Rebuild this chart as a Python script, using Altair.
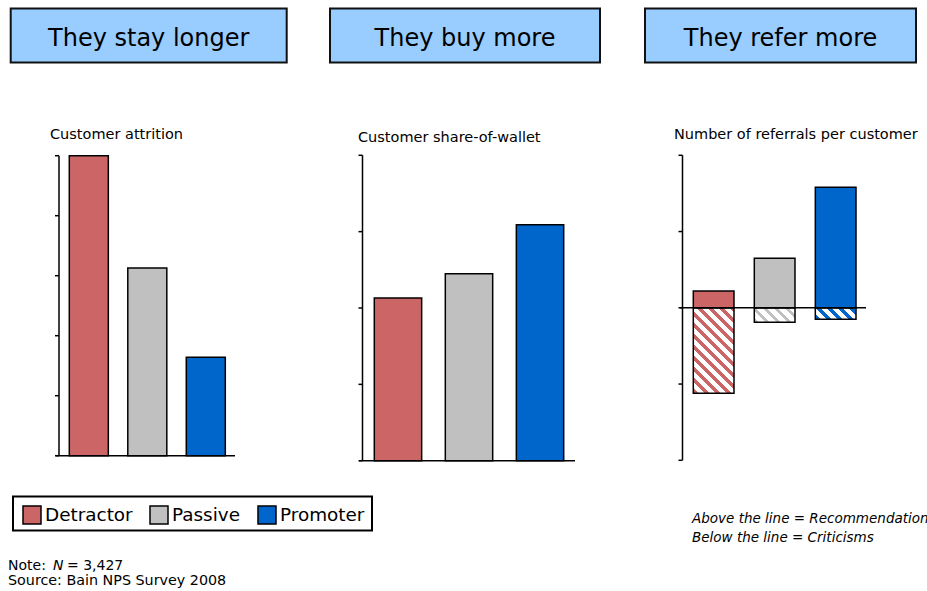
import altair as alt
import pandas as pd

# ---------------- data ----------------
segments = ["Detractor", "Passive", "Promoter"]
seg_colors = ["#CC6666", "#C0C0C0", "#0066CC"]

headers = ["They stay longer", "They buy more", "They refer more"]
subtitles = ["Customer attrition", "Customer share-of-wallet", "Number of referrals per customer"]

attrition = [5.0, 3.13, 1.64]
wallet = [2.13, 2.45, 3.09]
referrals_up = [0.22, 0.65, 1.58]
referrals_down = [-1.12, -0.19, -0.15]

attr_ticks = [0, 1, 2, 3, 4, 5]
wallet_ticks = [0, 1, 2, 3, 4]
ref_ticks = [-2, -1, 0, 1, 2]

note_prefix = "Note:"
note_n = "N"
note_value = "= 3,427"
source_line = "Source: Bain NPS Survey 2008"
annotation_lines = ["Above the line = Recommendations", "Below the line = Criticisms"]

# ---------------- layout / style ----------------
FONT = "DejaVu Sans"
PAD_INNER = 0.333
panels = [
    dict(xr=(69.3, 225.3), yr=(455.7, 155.7), dom=(0, 5), axis_x=59.0, base=(55.7, 235.0),
         box=(10.7, 286.7), sub=(50, 139)),
    dict(xr=(374.3, 563.7), yr=(460.7, 155.3), dom=(0, 4), axis_x=362.5, base=(359.0, 575.0),
         box=(330.0, 600.0), sub=(358, 141.5)),
    dict(xr=(693.3, 856.0), yr=(460.3, 155.3), dom=(-2, 2), axis_x=682.5, base=(680.0, 866.0),
         box=(645.0, 916.0), sub=(674, 138.5)),
]
BOX_Y = (8.5, 62.5)


def xs(p):
    return alt.X("segment:N", scale=alt.Scale(domain=segments, range=list(p["xr"]),
                                              paddingInner=PAD_INNER, paddingOuter=0), axis=None)


def ys(p, field="value"):
    return alt.Y(f"{field}:Q", scale=alt.Scale(domain=list(p["dom"]), range=list(p["yr"]),
                                               nice=False, zero=False), axis=None)


color_enc = alt.Color(
    "segment:N",
    scale=alt.Scale(domain=segments, range=seg_colors),
    legend=alt.Legend(title=None, orient="none", legendX=13, legendY=496, direction="horizontal",
                      symbolType="square", symbolSize=324, symbolStrokeColor="black",
                      symbolStrokeWidth=1.5, symbolOpacity=1, labelFont=FONT, labelFontSize=18.4,
                      labelColor="black", labelOffset=3, columnPadding=14, padding=9),
)


def hatch(color, w, h, period=11.0, frac=0.45):
    s = (w + h) / (w * w + h * h)
    dt = period / (w + h)
    stops = []
    t = 0.0
    while t < 1:
        b = min(t + frac * dt, 1.0)
        c = min(t + dt, 1.0)
        stops += [{"offset": round(t, 4), "color": color}, {"offset": round(b, 4), "color": color},
                  {"offset": round(b, 4), "color": "white"}, {"offset": round(c, 4), "color": "white"}]
        t += dt
    return {"gradient": "linear", "x1": 0, "y1": 1, "x2": round(s * w, 4), "y2": round(1 - s * h, 4),
            "stops": stops}


def axis_layers(p, ticks):
    one = pd.DataFrame({"lo": [p["dom"][0]], "hi": [p["dom"][1]]})
    vline = alt.Chart(one).mark_rule(color="black", strokeWidth=1.5).encode(
        y=ys(p, "lo"), y2="hi:Q", x=alt.value(p["axis_x"]))
    tk = alt.Chart(pd.DataFrame({"lo": ticks})).mark_rule(color="black", strokeWidth=1.5).encode(
        y=ys(p, "lo"), x=alt.value(p["axis_x"] - 4), x2=alt.value(p["axis_x"]))
    base = alt.Chart(pd.DataFrame({"lo": [0]})).mark_rule(color="black", strokeWidth=1.5).encode(
        y=ys(p, "lo"), x=alt.value(p["base"][0]), x2=alt.value(p["base"][1]))
    return [vline, tk], base


def header_layers(i, p):
    df = pd.DataFrame({"t": [headers[i]]})
    box = alt.Chart(df).mark_rect(fill="#99CCFF", stroke="#111111", strokeWidth=2).encode(
        x=alt.value(p["box"][0]), x2=alt.value(p["box"][1]),
        y=alt.value(BOX_Y[0]), y2=alt.value(BOX_Y[1]))
    txt = alt.Chart(df).mark_text(font=FONT, fontSize=24, color="black", align="center",
                                  baseline="alphabetic").encode(
        text="t:N", x=alt.value((p["box"][0] + p["box"][1]) / 2), y=alt.value(46))
    sdf = pd.DataFrame({"t": [subtitles[i]]})
    sub = alt.Chart(sdf).mark_text(font=FONT, fontSize=14.5, color="black", align="left",
                                   baseline="alphabetic").encode(
        text="t:N", x=alt.value(p["sub"][0]), y=alt.value(p["sub"][1]))
    return [box, txt, sub]


bar_style = dict(stroke="black", strokeWidth=1.5)

# panel 1
p1 = panels[0]
d1 = pd.DataFrame({"segment": segments, "value": attrition})
ax1, base1 = axis_layers(p1, attr_ticks)
bars1 = alt.Chart(d1).mark_bar(**bar_style).encode(x=xs(p1), y=ys(p1), color=color_enc)
panel1 = alt.layer(*header_layers(0, p1), *ax1, bars1, base1)

# panel 2
p2 = panels[1]
d2 = pd.DataFrame({"segment": segments, "value": wallet})
ax2, base2 = axis_layers(p2, wallet_ticks)
bars2 = alt.Chart(d2).mark_bar(**bar_style).encode(x=xs(p2), y=ys(p2), color=color_enc)
panel2 = alt.layer(*header_layers(1, p2), *ax2, bars2, base2)

# panel 3
p3 = panels[2]
d3 = pd.DataFrame({"segment": segments, "value": referrals_up})
ax3, base3 = axis_layers(p3, ref_ticks)
bars3 = alt.Chart(d3).mark_bar(**bar_style).encode(x=xs(p3), y=ys(p3), color=color_enc)
step3 = (p3["xr"][1] - p3["xr"][0]) / (len(segments) - PAD_INNER)
bw3 = step3 * (1 - PAD_INNER)
ppu3 = (p3["yr"][0] - p3["yr"][1]) / (p3["dom"][1] - p3["dom"][0])
hatched = []
for seg, val, col in zip(segments, referrals_down, seg_colors):
    dd = pd.DataFrame({"segment": [seg], "value": [val]})
    hatched.append(alt.Chart(dd).mark_bar(fill=hatch(col, bw3, abs(val) * ppu3), **bar_style).encode(
        x=xs(p3), y=ys(p3)))
panel3 = alt.layer(*header_layers(2, p3), *ax3, *hatched, bars3, base3)

# legend frame, notes, annotation
frame = alt.Chart(pd.DataFrame({"a": [0]})).mark_rect(fill="white", stroke="black", strokeWidth=2).encode(
    x=alt.value(13), x2=alt.value(372), y=alt.value(496.5), y2=alt.value(530.5))

txt_style = dict(font=FONT, color="black", align="left", baseline="alphabetic")
note1 = alt.Chart(pd.DataFrame({"t": [note_prefix]})).mark_text(fontSize=14, **txt_style).encode(
    text="t:N", x=alt.value(8), y=alt.value(570))
note2 = alt.Chart(pd.DataFrame({"t": [note_n]})).mark_text(fontSize=14, fontStyle="italic", **txt_style).encode(
    text="t:N", x=alt.value(53), y=alt.value(570))
note3 = alt.Chart(pd.DataFrame({"t": [note_value]})).mark_text(fontSize=14, **txt_style).encode(
    text="t:N", x=alt.value(67), y=alt.value(570))
note4 = alt.Chart(pd.DataFrame({"t": [source_line]})).mark_text(fontSize=14.3, **txt_style).encode(
    text="t:N", x=alt.value(8), y=alt.value(584.5))
ann1 = alt.Chart(pd.DataFrame({"t": [annotation_lines[0]]})).mark_text(
    fontSize=13.5, fontStyle="italic", **txt_style).encode(text="t:N", x=alt.value(692), y=alt.value(523))
ann2 = alt.Chart(pd.DataFrame({"t": [annotation_lines[1]]})).mark_text(
    fontSize=13.5, fontStyle="italic", **txt_style).encode(text="t:N", x=alt.value(692), y=alt.value(542))

misc = alt.layer(frame, note1, note2, note3, note4, ann1, ann2)

chart = alt.layer(panel1, panel2, panel3, misc).resolve_scale(
    x="independent", y="independent"
).properties(
    width=927, height=591, autosize="none", padding=0
).configure_view(stroke=None)

chart.save("out.html", embed_options={"renderer": "svg", "actions": False})
